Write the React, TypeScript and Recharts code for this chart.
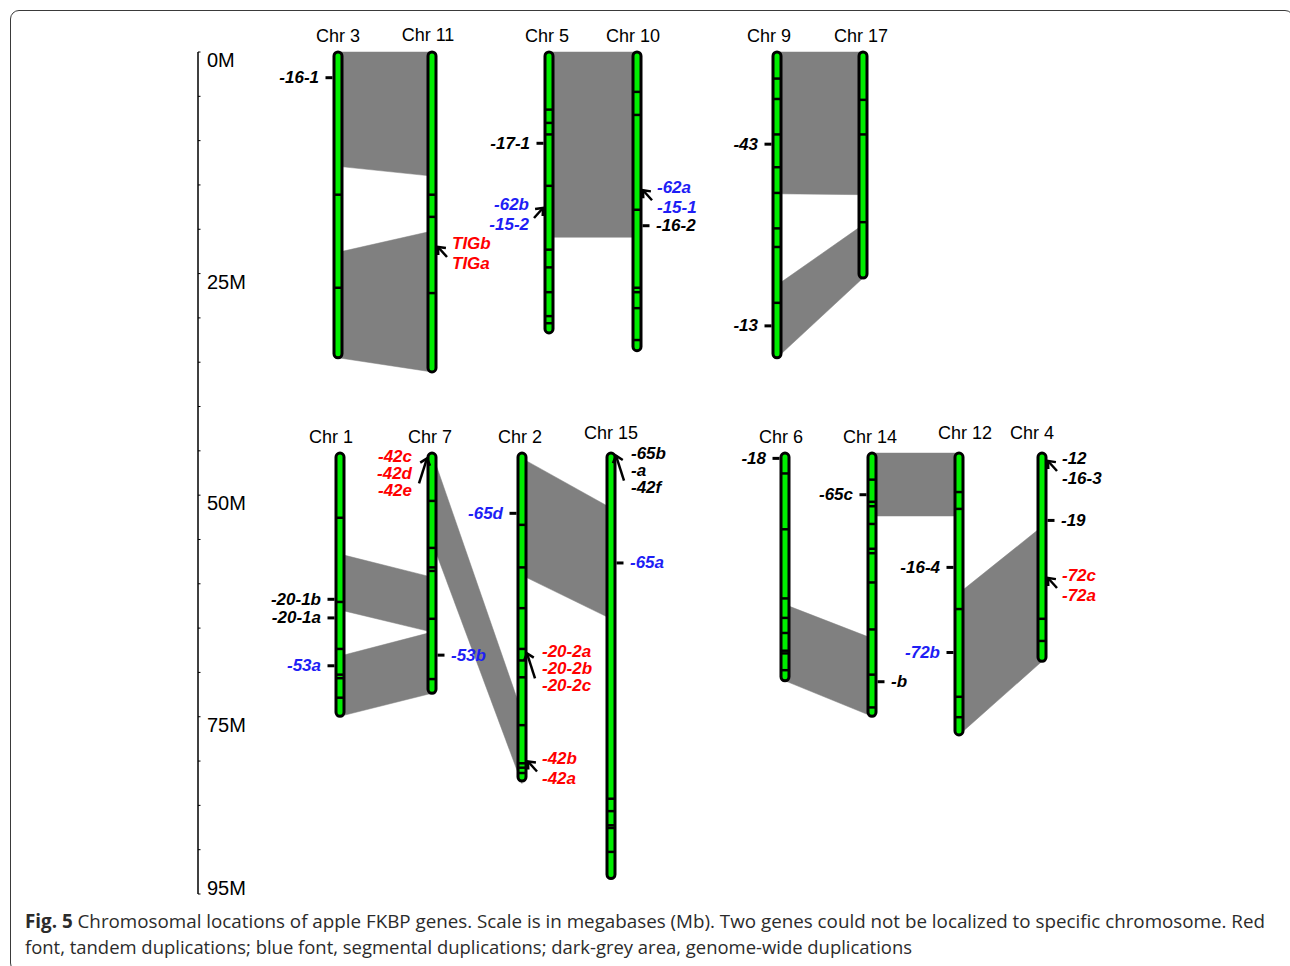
import { ScatterChart, Scatter, XAxis, YAxis } from "recharts";

// Mb scale of the ruler; the lower row of chromosomes starts further down the same scale
const RULER_TICKS = [0, 5, 10, 15, 20, 25, 30, 35, 40, 45, 50, 55, 60, 65, 70, 75, 80, 85, 90, 95];
const RULER_LABELS = [0, 25, 50, 75, 95];
const ROW_START = [0, 45.25];

// chromosome name, row, length (Mb) and band boundaries (Mb from top)
const CHROMOSOMES = [
    { name: "Chr 3", row: 0, length: 34.5, bands: [16.1, 26.6] },
    { name: "Chr 11", row: 0, length: 36.1, bands: [16.1, 18.6, 27.2] },
    { name: "Chr 5", row: 0, length: 31.7, bands: [6.5, 8.0, 9.3, 15.1, 22.3, 24.3, 27.1, 29.8, 30.6] },
    { name: "Chr 10", row: 0, length: 33.7, bands: [4.5, 7.1, 17.8, 26.6, 27.1, 28.9, 32.5] },
    { name: "Chr 9", row: 0, length: 34.5, bands: [3.0, 5.3, 9.3, 13.0, 15.9, 19.9, 22.0, 28.3] },
    { name: "Chr 17", row: 0, length: 25.5, bands: [5.4, 9.3, 19.2] },
    { name: "Chr 1", row: 1, length: 29.7, bands: [7.3, 16.8, 22.1, 25.0, 25.4, 27.6] },
    { name: "Chr 7", row: 1, length: 27.1, bands: [5.4, 10.7, 12.9, 13.3, 18.7, 25.5] },
    { name: "Chr 2", row: 1, length: 37.0, bands: [8.1, 12.9, 17.5, 22.1, 23.4, 25.3, 30.7, 35.0, 35.5, 36.1] },
    { name: "Chr 15", row: 1, length: 48.0, bands: [39.0, 40.4, 42.0, 42.3, 45.0] },
    { name: "Chr 6", row: 1, length: 25.7, bands: [2.3, 8.6, 16.4, 18.6, 20.3, 22.3, 22.6, 24.5] },
    { name: "Chr 14", row: 1, length: 29.7, bands: [3.0, 5.5, 6.0, 8.0, 10.8, 11.3, 14.6, 19.9, 25.0, 28.7] },
    { name: "Chr 12", row: 1, length: 31.8, bands: [4.4, 6.3, 17.6, 27.5, 29.8] },
    { name: "Chr 4", row: 1, length: 23.5, bands: [18.7, 21.2] },
];

// genome-wide duplication blocks between neighbouring chromosomes (Mb ranges)
const BLOCKS = [
    { a: "Chr 3", b: "Chr 11", a0: 0, a1: 12.9, b0: 0, b1: 14.0 },
    { a: "Chr 3", b: "Chr 11", a0: 22.6, a1: 34.5, b0: 20.2, b1: 36.1 },
    { a: "Chr 5", b: "Chr 10", a0: 0, a1: 20.9, b0: 0, b1: 20.9 },
    { a: "Chr 9", b: "Chr 17", a0: 0, a1: 16.0, b0: 0, b1: 16.1 },
    { a: "Chr 9", b: "Chr 17", a0: 26.3, a1: 34.5, b0: 19.5, b1: 25.5 },
    { a: "Chr 1", b: "Chr 7", a0: 11.4, a1: 17.7, b0: 14.0, b1: 20.2 },
    { a: "Chr 1", b: "Chr 7", a0: 22.9, a1: 29.7, b0: 20.2, b1: 27.1 },
    { a: "Chr 7", b: "Chr 2", a0: 0, a1: 10.0, b0: 29.3, b1: 37.3 },
    { a: "Chr 2", b: "Chr 15", a0: 0.6, a1: 13.8, b0: 6.2, b1: 18.7 },
    { a: "Chr 6", b: "Chr 14", a0: 17.1, a1: 25.7, b0: 20.9, b1: 29.7 },
    { a: "Chr 14", b: "Chr 12", a0: 0, a1: 7.1, b0: 0, b1: 7.1 },
    { a: "Chr 12", b: "Chr 4", a0: 15.8, a1: 31.8, b0: 8.3, b1: 23.5 },
];

// FKBP genes: position (Mb), side of the label, duplication type
const GENES = [
    { chr: "Chr 3", pos: 2.9, side: "L", dup: "none", labels: ["-16-1"] },
    { chr: "Chr 11", pos: 22.0, side: "R", dup: "tandem", labels: ["TIGb", "TIGa"] },
    { chr: "Chr 5", pos: 10.3, side: "L", dup: "none", labels: ["-17-1"] },
    { chr: "Chr 5", pos: 17.6, side: "L", dup: "segmental", labels: ["-62b", "-15-2"] },
    { chr: "Chr 10", pos: 15.6, side: "R", dup: "segmental", labels: ["-62a", "-15-1"] },
    { chr: "Chr 10", pos: 19.6, side: "R", dup: "none", labels: ["-16-2"] },
    { chr: "Chr 9", pos: 10.4, side: "L", dup: "none", labels: ["-43"] },
    { chr: "Chr 9", pos: 30.9, side: "L", dup: "none", labels: ["-13"] },
    { chr: "Chr 1", pos: 16.5, side: "L", dup: "none", labels: ["-20-1b"] },
    { chr: "Chr 1", pos: 18.6, side: "L", dup: "none", labels: ["-20-1a"] },
    { chr: "Chr 1", pos: 24.0, side: "L", dup: "segmental", labels: ["-53a"] },
    { chr: "Chr 7", pos: 0.6, side: "L", dup: "tandem", labels: ["-42c", "-42d", "-42e"] },
    { chr: "Chr 7", pos: 22.8, side: "R", dup: "segmental", labels: ["-53b"] },
    { chr: "Chr 2", pos: 6.8, side: "L", dup: "segmental", labels: ["-65d"] },
    { chr: "Chr 2", pos: 22.6, side: "R", dup: "tandem", labels: ["-20-2a", "-20-2b", "-20-2c"] },
    { chr: "Chr 2", pos: 34.8, side: "R", dup: "tandem", labels: ["-42b", "-42a"] },
    { chr: "Chr 15", pos: 0.3, side: "R", dup: "none", labels: ["-65b", "-a", "-42f"] },
    { chr: "Chr 15", pos: 12.4, side: "R", dup: "segmental", labels: ["-65a"] },
    { chr: "Chr 6", pos: 0.6, side: "L", dup: "none", labels: ["-18"] },
    { chr: "Chr 14", pos: 4.7, side: "L", dup: "none", labels: ["-65c"] },
    { chr: "Chr 14", pos: 25.8, side: "R", dup: "none", labels: ["-b"] },
    { chr: "Chr 12", pos: 12.9, side: "L", dup: "none", labels: ["-16-4"] },
    { chr: "Chr 12", pos: 22.5, side: "L", dup: "segmental", labels: ["-72b"] },
    { chr: "Chr 4", pos: 0.9, side: "R", dup: "none", labels: ["-12", "-16-3"] },
    { chr: "Chr 4", pos: 7.6, side: "R", dup: "none", labels: ["-19"] },
    { chr: "Chr 4", pos: 14.1, side: "R", dup: "tandem", labels: ["-72c", "-72a"] },
];

// horizontal placement of each chromosome and small nudges of its title
const CHROM_X: Record<string, number> = {
    "Chr 3": 338, "Chr 11": 432, "Chr 5": 549, "Chr 10": 637, "Chr 9": 777, "Chr 17": 863,
    "Chr 1": 340, "Chr 7": 432, "Chr 2": 522, "Chr 15": 611, "Chr 6": 785, "Chr 14": 872, "Chr 12": 959, "Chr 4": 1042,
};
const TITLE_NUDGE: Record<string, [number, number]> = {
    "Chr 11": [-4, -1], "Chr 5": [-2, 0], "Chr 10": [-4, 0], "Chr 9": [-8, 0], "Chr 17": [-2, 0],
    "Chr 1": [-9, 0], "Chr 7": [-2, 0], "Chr 2": [-2, 0], "Chr 15": [0, -4], "Chr 6": [-4, 0],
    "Chr 14": [-2, 0], "Chr 12": [6, -4], "Chr 4": [-10, -4],
};

const GREEN = "#00ee00";
const GREY = "#808080";
const DUP_COLORS: Record<string, string> = { none: "#000000", tandem: "#ff0000", segmental: "#1e1ef5" };
const FONT = "'Liberation Sans', Arial, sans-serif";

const rowOf = (name: string) => CHROMOSOMES.find((c) => c.name === name)!.row;

const Blank = () => <g />;

const RulerTick = ({ x, y, payload }: any) => (
    <g>
        <line x1={x} x2={x + 2.5} y1={y} y2={y} stroke="#000" strokeWidth={1} />
        {RULER_LABELS.includes(payload.value) && (
            <text x={x + 9} y={payload.value === 95 ? y + 1 : y + 15} fontSize={20} fontFamily={FONT} fill="#000">
                {`${payload.value}M`}
            </text>
        )}
    </g>
);

// chromosome body drawn as the series line through its end points
const chromBody = (name: string) => (props: any) => {
    const pts = props.points || [];
    if (!pts.length) return <g />;
    const ys = pts.map((p: any) => p.y);
    const top = Math.min(...ys);
    const bottom = Math.max(...ys);
    const x = pts[0].x;
    const [dx, dy] = TITLE_NUDGE[name] || [0, 0];
    return (
        <g>
            <rect x={x - 4} y={top} width={8} height={bottom - top} rx={4} ry={4} fill={GREEN} stroke="#000" strokeWidth={3} />
            <text x={x + dx} y={top - 16 + dy} textAnchor="middle" dominantBaseline="central" fontSize={18} fontFamily={FONT} fill="#000">
                {name}
            </text>
        </g>
    );
};

const BandMark = ({ cx, cy, payload }: any) =>
    payload.kind === "band" ? <line x1={cx - 4} x2={cx + 4} y1={cy} y2={cy} stroke="#000" strokeWidth={2.5} /> : <g />;

const GeneMark = ({ cx, cy, payload }: any) => {
    const s = payload.side === "L" ? -1 : 1;
    const color = DUP_COLORS[payload.dup];
    const labels: string[] = payload.labels;
    const anchor = s < 0 ? "end" : "start";
    const textProps = {
        textAnchor: anchor,
        dominantBaseline: "central",
        fontSize: 17,
        fontWeight: 700,
        fontStyle: "italic",
        fontFamily: FONT,
        fill: color,
    } as any;

    if (labels.length === 1) {
        return (
            <g>
                <line x1={cx + s * 5.5} x2={cx + s * 12.5} y1={cy} y2={cy} stroke="#000" strokeWidth={3} />
                <text x={cx + s * 19} y={cy} {...textProps}>{labels[0]}</text>
            </g>
        );
    }

    const three = labels.length > 2;
    const tipX = cx + s * (three ? 5 : 6);
    const tailX = cx + s * (three ? 13 : 15);
    const tailY = cy + (three ? 25 : 10);
    const step = three ? 17 : 20;
    const firstY = cy - (three ? 2 : 3);
    const ang = Math.atan2(cy - tailY, tipX - tailX);
    const h = 8;
    const head = (d: number) => `${tipX - h * Math.cos(ang + d)},${cy - h * Math.sin(ang + d)}`;

    return (
        <g>
            <line x1={tailX} y1={tailY} x2={tipX} y2={cy} stroke="#000" strokeWidth={2.5} />
            <polyline points={`${head(0.7)} ${tipX},${cy} ${head(-0.7)}`} fill="none" stroke="#000" strokeWidth={2.5} />
            {labels.map((t, i) => (
                <text key={t} x={cx + s * 20} y={firstY + i * step} {...textProps}>{t}</text>
            ))}
        </g>
    );
};

export default function App() {
    const geneData = GENES.map((g) => ({ ...g, x: CHROM_X[g.chr], y: ROW_START[rowOf(g.chr)] + g.pos }));

    return (
        <div style={{ position: "fixed", left: 0, top: 0, width: 1290, height: 966, overflow: "hidden", background: "#fff" }}>
            {/* figure frame, cut off by the right and bottom page edges */}
            <div
                style={{
                    position: "absolute",
                    left: 10,
                    top: 10,
                    width: 1282,
                    height: 960,
                    border: "1.5px solid #3a3a3a",
                    borderRadius: 9,
                }}
            />
            <div style={{ position: "absolute", left: 0, top: 0 }}>
                <ScatterChart width={1290} height={966} margin={{ top: 52, right: 0, bottom: 72, left: 0 }}>
                    <XAxis type="number" dataKey="x" domain={[198, 1290]} hide />
                    <YAxis
                        type="number"
                        dataKey="y"
                        domain={[0, 95]}
                        reversed
                        width={198}
                        ticks={RULER_TICKS}
                        interval={0}
                        tickSize={0}
                        tickMargin={0}
                        tickLine={false}
                        axisLine={{ stroke: "#000", strokeWidth: 1.5 }}
                        tick={(p: any) => <RulerTick {...p} />}
                    />
                    {BLOCKS.map((b, i) => {
                        const off = ROW_START[rowOf(b.a)];
                        const data = [
                            { x: CHROM_X[b.a], y: off + b.a0 },
                            { x: CHROM_X[b.b], y: off + b.b0 },
                            { x: CHROM_X[b.b], y: off + b.b1 },
                            { x: CHROM_X[b.a], y: off + b.a1 },
                        ];
                        return (
                            <Scatter
                                key={`block-${i}`}
                                data={data}
                                line={{ fill: GREY, stroke: GREY, strokeWidth: 0.5 }}
                                lineType="joint"
                                shape={Blank}
                                isAnimationActive={false}
                            />
                        );
                    })}
                    {CHROMOSOMES.map((c) => {
                        const x = CHROM_X[c.name];
                        const off = ROW_START[c.row];
                        const data = [
                            { x, y: off, kind: "end" },
                            ...c.bands.map((b) => ({ x, y: off + b, kind: "band" })),
                            { x, y: off + c.length, kind: "end" },
                        ];
                        return (
                            <Scatter
                                key={c.name}
                                data={data}
                                line={chromBody(c.name)}
                                lineType="joint"
                                shape={BandMark}
                                isAnimationActive={false}
                            />
                        );
                    })}
                    <Scatter data={geneData} shape={GeneMark} isAnimationActive={false} />
                </ScatterChart>
            </div>
            <svg width={1290} height={66} style={{ position: "absolute", left: 0, top: 900 }}>
                <text x={25} y={28} fontSize={19} fontFamily="'Open Sans', sans-serif" fill="#2b2b2b" textLength={1240} lengthAdjust="spacingAndGlyphs">
                    <tspan fontWeight={700}>Fig. 5</tspan>
                    {" Chromosomal locations of apple FKBP genes. Scale is in megabases (Mb). Two genes could not be localized to specific chromosome. Red"}
                </text>
                <text x={25} y={54} fontSize={19} fontFamily="'Open Sans', sans-serif" fill="#2b2b2b" textLength={887} lengthAdjust="spacingAndGlyphs">
                    font, tandem duplications; blue font, segmental duplications; dark-grey area, genome-wide duplications
                </text>
            </svg>
        </div>
    );
}
